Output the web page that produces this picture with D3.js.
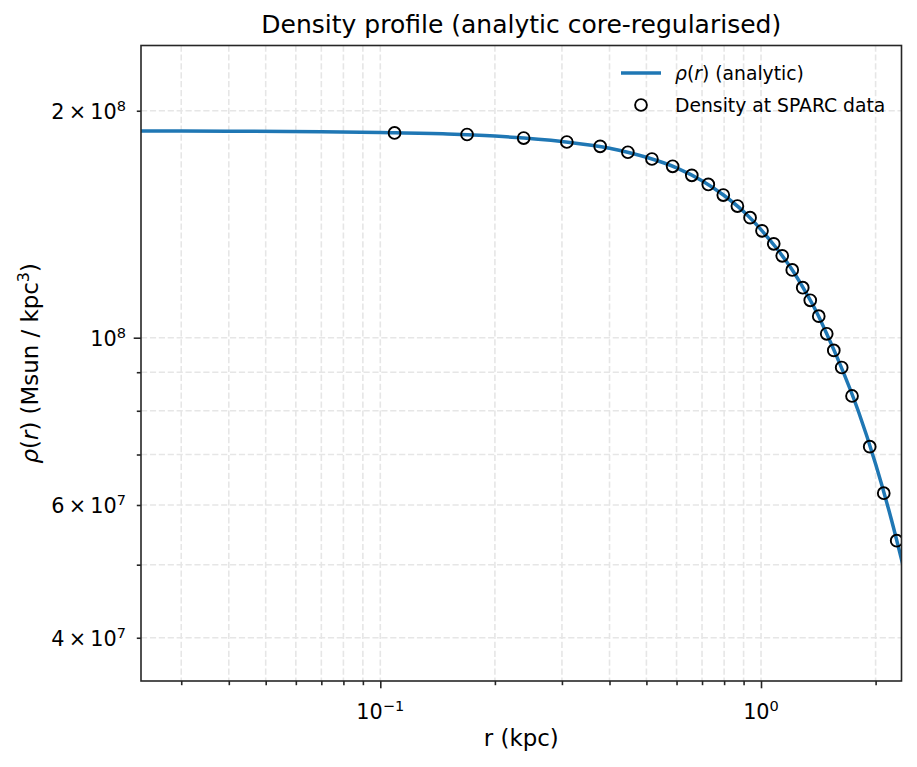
<!DOCTYPE html>
<html>
<head>
<meta charset="utf-8">
<script src="https://cdn.jsdelivr.net/npm/d3@7"></script>
<style>
  body { margin: 0; background: #fff; }
  svg { display: block; font-family: "DejaVu Sans", sans-serif; }
  .grid line { stroke: #e6e6e6; stroke-width: 1.6; stroke-dasharray: 6.2,2.7; }
</style>
</head>
<body>
<div id="chart"></div>
<script>

// analytic profile
var curveR = [0.0235, 0.04, 0.07, 0.1, 0.15, 0.2, 0.3, 0.4, 0.5, 0.6, 0.7, 0.8, 0.9,
              1.0, 1.1, 1.2, 1.3, 1.4, 1.5, 1.6, 1.8, 2.0, 2.2, 2.4];
var curveRho = [1.880e8, 1.879e8, 1.876e8, 1.871e8, 1.863e8, 1.851e8, 1.821e8, 1.784e8,
                1.735e8, 1.680e8, 1.615e8, 1.544e8, 1.470e8, 1.391e8, 1.313e8, 1.236e8,
                1.157e8, 1.081e8, 1.003e8, 9.31e7, 8.0e7, 6.80e7, 5.74e7, 4.82e7];

// density evaluated at the SPARC radii
var sparcR = [0.109, 0.169, 0.238, 0.309, 0.378, 0.447, 0.517, 0.586, 0.658, 0.727,
              0.796, 0.867, 0.936, 1.006, 1.080, 1.137, 1.208, 1.287, 1.347, 1.418,
              1.488, 1.553, 1.629, 1.734, 1.930, 2.101, 2.272];
var sparcRho = [1.869e8, 1.860e8, 1.840e8, 1.818e8, 1.794e8, 1.762e8, 1.726e8, 1.688e8,
                1.642e8, 1.597e8, 1.546e8, 1.495e8, 1.443e8, 1.386e8, 1.332e8, 1.284e8,
                1.230e8, 1.165e8, 1.121e8, 1.068e8, 1.012e8, 9.62e7, 9.13e7, 8.37e7,
                7.17e7, 6.22e7, 5.38e7];

var xMajor = [0.1, 1];
var xMinor = [0.03, 0.04, 0.05, 0.06, 0.07, 0.08, 0.09, 0.2, 0.3, 0.4, 0.5, 0.6, 0.7, 0.8, 0.9, 2];
var yMajor = [1e8];
var yMinor = [4e7, 5e7, 6e7, 7e7, 8e7, 9e7, 2e8];
var yLabelled = [4e7, 6e7, 1e8, 2e8];

var margin = { top: 45.5, right: 15.5, bottom: 86, left: 141 },
    width = 917 - margin.left - margin.right,
    height = 767 - margin.top - margin.bottom;

var svg = d3.select("#chart").append("svg")
    .attr("width", 917)
    .attr("height", 767);

var g = svg.append("g")
    .attr("transform", "translate(" + margin.left + "," + margin.top + ")");

// scales
var x = d3.scaleLog().domain([0.02352, 2.339]).range([0, width]);
var y = d3.scaleLog().domain([3.505e7, 2.441e8]).range([height, 0]);

g.append("defs").append("clipPath").attr("id", "clip")
  .append("rect").attr("width", width).attr("height", height);

// dashed grid on major and minor ticks
var grid = g.append("g").attr("class", "grid");
grid.selectAll(".gx").data(xMajor.concat(xMinor)).enter().append("line")
    .attr("x1", function(d) { return x(d); }).attr("x2", function(d) { return x(d); })
    .attr("y1", 0).attr("y2", height);
grid.selectAll(".gy").data(yMajor.concat(yMinor)).enter().append("line")
    .attr("y1", function(d) { return y(d); }).attr("y2", function(d) { return y(d); })
    .attr("x1", 0).attr("x2", width);

// analytic curve
var line = d3.line()
    .x(function(d) { return x(d[0]); })
    .y(function(d) { return y(d[1]); })
    .curve(d3.curveMonotoneX);

g.append("path")
    .datum(d3.zip(curveR, curveRho))
    .attr("clip-path", "url(#clip)")
    .attr("fill", "none")
    .attr("stroke", "#1f77b4")
    .attr("stroke-width", 3.5)
    .attr("d", line);

// data markers
g.append("g").attr("clip-path", "url(#clip)")
  .selectAll("circle").data(d3.zip(sparcR, sparcRho)).enter().append("circle")
    .attr("cx", function(d) { return x(d[0]); })
    .attr("cy", function(d) { return y(d[1]); })
    .attr("r", 5.9)
    .attr("fill", "none")
    .attr("stroke", "#000")
    .attr("stroke-width", 1.9);

// axes
var axisColor = "#262626";
function styleAxis(sel) {
  sel.select(".domain").remove();
  sel.selectAll("line").attr("stroke", axisColor).attr("stroke-width", 1.6);
  sel.selectAll("text").remove();
}

g.append("g").attr("transform", "translate(0," + height + ")")
  .call(d3.axisBottom(x).tickValues(xMajor).tickSize(7.3)).call(styleAxis);
g.append("g").attr("transform", "translate(0," + height + ")")
  .call(d3.axisBottom(x).tickValues(xMinor).tickSize(4.2)).call(styleAxis);
g.append("g")
  .call(d3.axisLeft(y).tickValues(yMajor).tickSize(7.3)).call(styleAxis);
g.append("g")
  .call(d3.axisLeft(y).tickValues(yMinor).tickSize(4.2)).call(styleAxis);

g.append("rect")
    .attr("width", width).attr("height", height)
    .attr("fill", "none").attr("stroke", axisColor).attr("stroke-width", 1.6);

// tick labels as 10^n with superscripts
var fs = 20.8;
g.selectAll(".xl").data(xMajor).enter().append("text")
    .attr("x", function(d) { return x(d); })
    .attr("y", height + 38)
    .attr("text-anchor", "middle")
    .attr("font-size", fs)
    .attr("fill", "#000")
    .each(function(d) {
      var e = Math.round(Math.log10(d));
      var t = d3.select(this);
      t.append("tspan").text("10");
      t.append("tspan").attr("font-size", fs * 0.7).attr("dy", -8)
        .text(e < 0 ? "\u2212" + (-e) : String(e));
    });

g.selectAll(".yl").data(yLabelled).enter().append("text")
    .attr("x", -15)
    .attr("y", function(d) { return y(d) + 8; })
    .attr("text-anchor", "end")
    .attr("font-size", fs)
    .attr("fill", "#000")
    .each(function(d) {
      var e = Math.floor(Math.log10(d) + 1e-9);
      var m = Math.round(d / Math.pow(10, e));
      var t = d3.select(this);
      t.append("tspan").text((m === 1 ? "" : m + "\u2009\u00d7\u2009") + "10");
      t.append("tspan").attr("font-size", fs * 0.7).attr("dy", -8).text(String(e));
    });

// titles
svg.append("text")
    .attr("x", margin.left + width / 2).attr("y", 33)
    .attr("text-anchor", "middle").attr("font-size", 25)
    .text("Density profile (analytic core-regularised)");

svg.append("text")
    .attr("x", margin.left + width / 2).attr("y", 746)
    .attr("text-anchor", "middle").attr("font-size", 22.9)
    .text("r (kpc)");

var yl = svg.append("text")
    .attr("transform", "translate(38," + (margin.top + height / 2) + ") rotate(-90)")
    .attr("text-anchor", "middle").attr("font-size", 22.9);
yl.append("tspan").attr("font-style", "italic").text("\u03c1");
yl.append("tspan").text("(");
yl.append("tspan").attr("font-style", "italic").text("r");
yl.append("tspan").text(") (Msun / kpc");
yl.append("tspan").attr("font-size", 16).attr("dy", -9).text("3");
yl.append("tspan").attr("dy", 9).text(")");

// legend
var legend = svg.append("g").attr("font-size", 18.75);
legend.append("line")
    .attr("x1", 621).attr("x2", 661).attr("y1", 73).attr("y2", 73)
    .attr("stroke", "#1f77b4").attr("stroke-width", 3.5);
var lt = legend.append("text").attr("x", 675).attr("y", 80);
lt.append("tspan").attr("font-style", "italic").text("\u03c1");
lt.append("tspan").text("(");
lt.append("tspan").attr("font-style", "italic").text("r");
lt.append("tspan").text(") (analytic)");
legend.append("circle")
    .attr("cx", 641).attr("cy", 105).attr("r", 5.9)
    .attr("fill", "none").attr("stroke", "#000").attr("stroke-width", 1.9);
legend.append("text").attr("x", 675).attr("y", 112).text("Density at SPARC data");

</script>
</body>
</html>
